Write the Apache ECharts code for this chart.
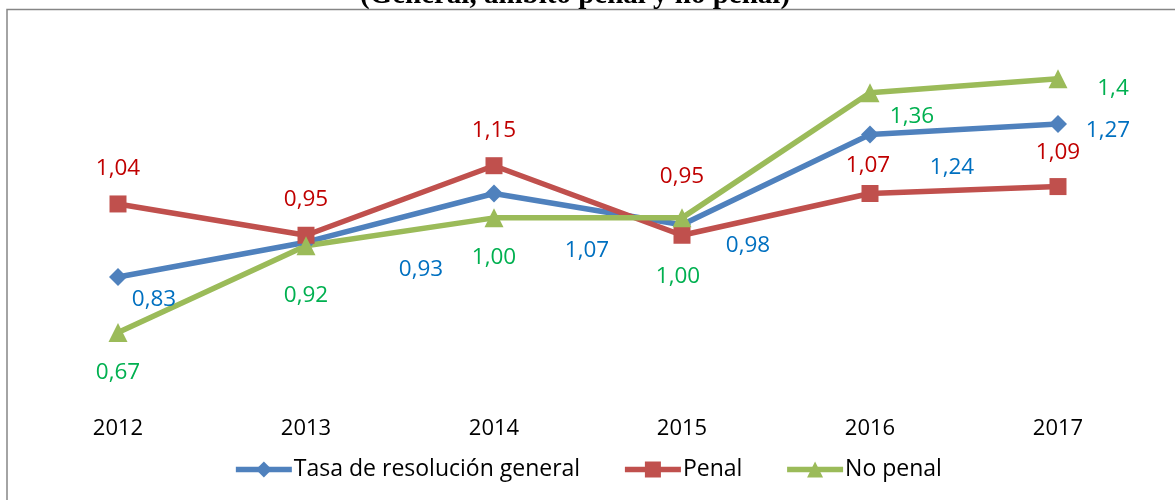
<!DOCTYPE html>
<html style="height: 100%">
    <head>
        <meta charset="utf-8">
    </head>
    <body style="height: 100%; margin: 0; background: #fff">
        <div id="container" style="width: 1175px; height: 500px"></div>

        <script type="text/javascript" src="https://cdn.jsdelivr.net/npm/echarts@6/dist/echarts.min.js"></script>

        <script type="text/javascript">
var years = ['2012', '2013', '2014', '2015', '2016', '2017'];
var general = [0.83, 0.93, 1.07, 0.98, 1.24, 1.27];
var penal = [1.04, 0.95, 1.15, 0.95, 1.07, 1.09];
var noPenal = [0.67, 0.92, 1.00, 1.00, 1.36, 1.4];
var labelText = {
    general: ['0,83', '0,93', '1,07', '0,98', '1,24', '1,27'],
    penal: ['1,04', '0,95', '1,15', '0,95', '1,07', '1,09'],
    noPenal: ['0,67', '0,92', '1,00', '1,00', '1,36', '1,4']
};

// where Excel dropped each data label, relative to its point
var offGeneral = [[36, 23], [115, 27], [93, 57], [66, 21], [82, 33], [50, 7]];
var offPenal = [[0, -35], [0, -36], [0, -35], [0, -59], [-2, -28], [0, -34]];
var offNoPenal = [[0, 40], [0, 50], [0, 40], [-4, 59], [42, 24], [55, 10]];

var font = '"Open Sans", sans-serif';

function withLabels(values, texts, offsets) {
    return values.map(function (v, i) {
        return {
            value: v,
            label: { offset: offsets[i], formatter: texts[i] }
        };
    });
}

function lineSeries(name, values, texts, offsets, lineColor, textColor, symbol, size) {
    return {
        name: name,
        type: 'line',
        data: withLabels(values, texts, offsets),
        symbol: symbol,
        symbolSize: size,
        lineStyle: { color: lineColor, width: 5.5 },
        itemStyle: { color: lineColor },
        label: {
            show: true,
            position: 'inside',
            color: textColor,
            fontSize: 22.5,
            fontFamily: font
        },
        animation: false
    };
}

var dom = document.getElementById('container');
var myChart = echarts.init(dom);

var option = {
    backgroundColor: '#fff',
    graphic: [
        {
            type: 'rect',
            shape: { x: 7, y: 9.5, width: 1300, height: 700 },
            style: { fill: null, stroke: '#868686', lineWidth: 1.5 },
            z: 0
        },
        {
            type: 'text',
            x: 575,
            y: 10,
            style: {
                text: '(General, ámbito penal y no penal)',
                font: 'bold 29px "Liberation Serif", serif',
                fill: '#000',
                align: 'center',
                verticalAlign: 'bottom'
            },
            z: 10
        }
    ],
    legend: {
        bottom: 14,
        left: 'center',
        itemWidth: 56,
        itemHeight: 20,
        itemGap: 42,
        lineStyle: { width: 5.5 },
        textStyle: { fontSize: 23, fontFamily: font, color: '#000', padding: [0, 0, 0, -3] },
        data: ['Tasa de resolución general', 'Penal', 'No penal']
    },
    grid: { left: 24, right: 23, top: 44, height: 368.6 },
    xAxis: {
        type: 'category',
        data: years,
        axisLine: { show: false },
        axisTick: { show: false },
        axisLabel: { color: '#000', fontSize: 22, fontFamily: font, margin: 5 }
    },
    yAxis: {
        type: 'value',
        min: 0.44,
        max: 1.5,
        show: false,
        splitLine: { show: false }
    },
    series: [
        lineSeries('Tasa de resolución general', general, labelText.general, offGeneral,
            '#4F81BD', '#0070C0', 'diamond', 18),
        lineSeries('Penal', penal, labelText.penal, offPenal,
            '#C0504D', '#C00000', 'rect', 17),
        lineSeries('No penal', noPenal, labelText.noPenal, offNoPenal,
            '#9BBB59', '#00B050', 'triangle', 19)
    ]
};

myChart.setOption(option);
        </script>
    </body>
</html>
